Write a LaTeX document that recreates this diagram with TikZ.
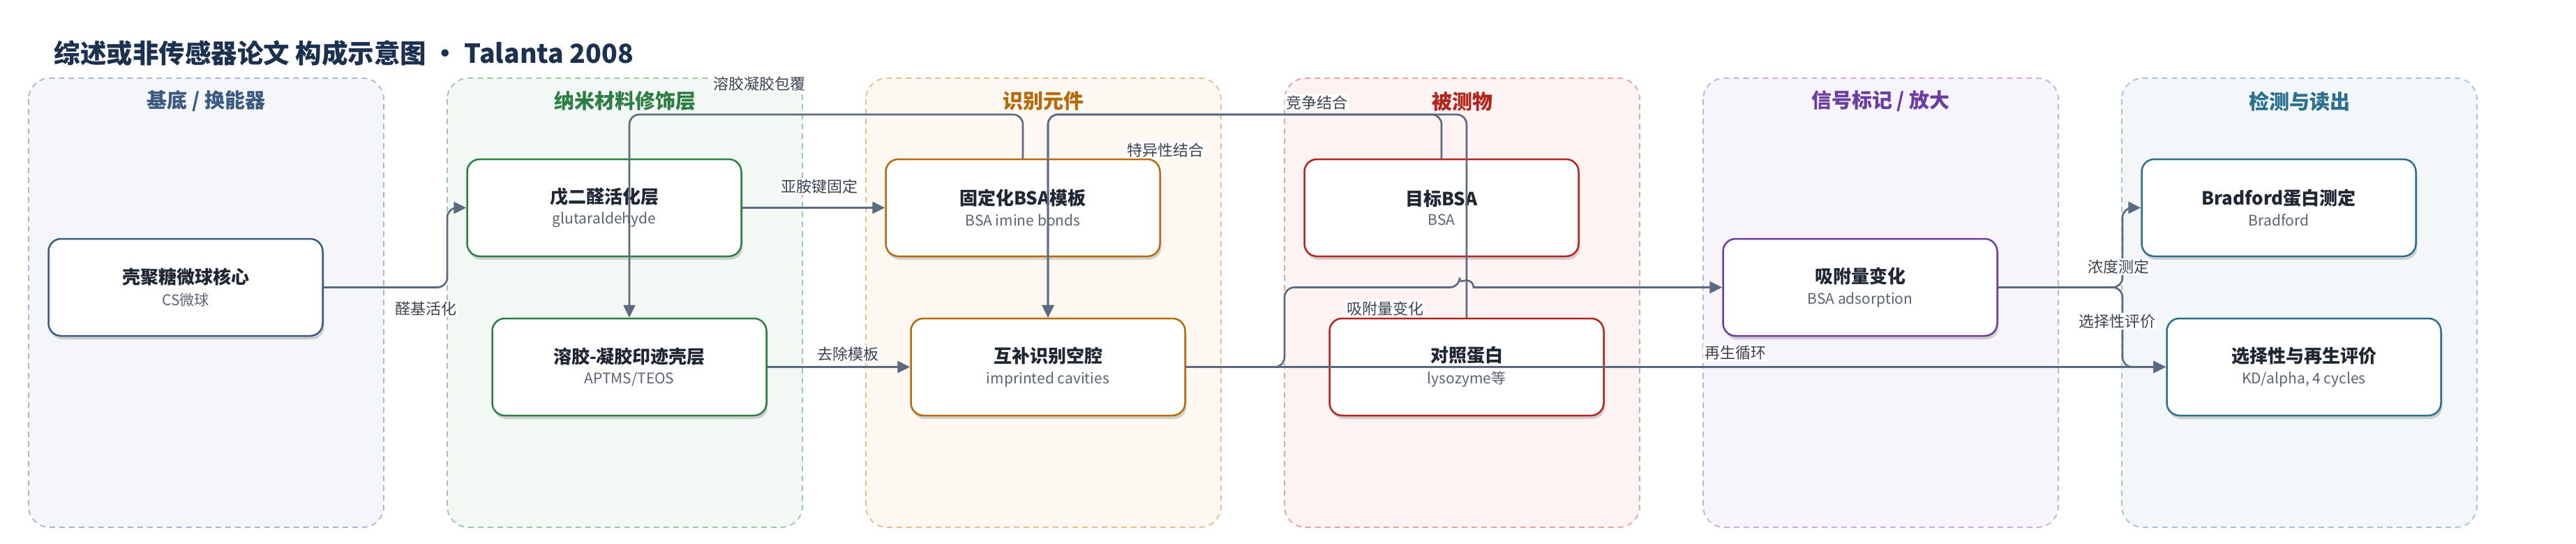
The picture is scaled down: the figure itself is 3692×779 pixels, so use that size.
\documentclass[tikz,border=0pt]{standalone}
\usepackage{fontspec}
\setmainfont{Noto Sans CJK SC}
\usetikzlibrary{arrows.meta,shadows}
\definecolor{ttl}{HTML}{1C3150}
\definecolor{txt}{HTML}{1F2733}
\definecolor{subc}{HTML}{5A6475}
\definecolor{edg}{HTML}{5B6A80}
\definecolor{lbc}{HTML}{3B4250}
\definecolor{c1}{HTML}{3D5A80}\definecolor{bd1}{HTML}{A9B7CB}\definecolor{bg1}{HTML}{F4F6FA}
\definecolor{c2}{HTML}{2E7D45}\definecolor{bd2}{HTML}{9CC9A8}\definecolor{bg2}{HTML}{F2F8F4}
\definecolor{c3}{HTML}{B8690B}\definecolor{bd3}{HTML}{E5C08C}\definecolor{bg3}{HTML}{FDF8F1}
\definecolor{c4}{HTML}{B3261E}\definecolor{bd4}{HTML}{E6A3A0}\definecolor{bg4}{HTML}{FDF3F2}
\definecolor{c5}{HTML}{6B3FA0}\definecolor{bd5}{HTML}{C6AEE0}\definecolor{bg5}{HTML}{F7F4FB}
\definecolor{c6}{HTML}{2B6F8E}\definecolor{bd6}{HTML}{A5C4D3}\definecolor{bg6}{HTML}{F3F7F9}
\tikzset{% lanes, boxes, connectors and their labels
    lane/.style 2 args={draw=#1, fill=#2, dash pattern=on 8pt off 6pt, line width=1.8pt, rounded corners=30pt},
    lt/.style={text=#1, font=\fontsize{29}{33}\selectfont\bfseries},
    v/.style={rectangle, rounded corners=18pt, minimum width=393pt, minimum height=139pt, fill=white,
        draw=#1, line width=2.5pt, text=txt, align=center,
        drop shadow={shadow xshift=2pt, shadow yshift=-5pt, opacity=.16, fill=black}},
    e/.style={-{Triangle[length=18pt,width=17pt]}, draw=edg, line width=2.6pt, rounded corners=14pt},
    lbl/.style={fill=white, text=lbc, inner sep=2pt, font=\fontsize{22}{24}\selectfont}}
\newcommand{\nd}[2]{{\fontsize{26}{30}\selectfont\bfseries #1}\\[9pt]{\fontsize{21}{25}\selectfont\color{subc}#2}}

\begin{document}
\begin{tikzpicture}[x=1pt,y=-1pt]
    \useasboundingbox (0,0) rectangle (3692,779);
    \node[anchor=west, text=ttl, font=\fontsize{37.5}{42}\selectfont\bfseries] (title) at (74,76)
        {综述或非传感器论文 构成示意图 · Talanta 2008};

    % lanes
    \draw[lane={bd1}{bg1}] (41,112) rectangle (550,755);
    \draw[lane={bd2}{bg2}] (641,112) rectangle (1150,755);
    \draw[lane={bd3}{bg3}] (1241,112) rectangle (1750,755);
    \draw[lane={bd4}{bg4}] (1841,112) rectangle (2350,755);
    \draw[lane={bd5}{bg5}] (2441,112) rectangle (2950,755);
    \draw[lane={bd6}{bg6}] (3041,112) rectangle (3550,755);
    \node[lt=c1] (t1) at (295.5,145) {基底 / 换能器};
    \node[lt=c2] (t2) at (895.5,145) {纳米材料修饰层};
    \node[lt=c3] (t3) at (1495.5,145) {识别元件};
    \node[lt=c4] (t4) at (2095.5,145) {被测物};
    \node[lt=c5] (t5) at (2695.5,145) {信号标记 / 放大};
    \node[lt=c6] (t6) at (3295.5,145) {检测与读出};

    % boxes
    \node[v=c1] (cs) at (266,411.5) {\nd{壳聚糖微球核心}{CS微球}};
    \node[v=c2] (glu) at (866,297.5) {\nd{戊二醛活化层}{glutaraldehyde}};
    \node[v=c2] (sol) at (902,525.5) {\nd{溶胶-凝胶印迹壳层}{APTMS/TEOS}};
    \node[v=c3] (tpl) at (1466,297.5) {\nd{固定化BSA模板}{BSA imine bonds}};
    \node[v=c3] (cav) at (1502,525.5) {\nd{互补识别空腔}{imprinted cavities}};
    \node[v=c4] (bsa) at (2066,297.5) {\nd{目标BSA}{BSA}};
    \node[v=c4] (ctl) at (2102,525.5) {\nd{对照蛋白}{lysozyme等}};
    \node[v=c5] (ads) at (2666,411.5) {\nd{吸附量变化}{BSA adsorption}};
    \node[v=c6] (brd) at (3266,297.5) {\nd{Bradford蛋白测定}{Bradford}};
    \node[v=c6] (sel) at (3302,525.5) {\nd{选择性与再生评价}{KD/alpha, 4 cycles}};

    % connectors
    \draw[e] (cs.east) -- (641,411.5) |- (glu.west);
    \draw[e] (glu) -- (tpl);
    \draw[e] (tpl.north) -- (1466,164) -| (sol.north);
    \draw[e] (sol) -- (cav);
    \draw[e] (bsa.north) -- (2066,164) -| (cav.north);
    \draw[e] (ctl.north) -- (2102,164) -| (cav.north);
    \draw[e] (cav.east) -- (1841,525.5) |- (2092,411.5) [sharp corners]
        arc[start angle=180, end angle=360, radius=10] -- (ads.west);
    \draw[e] (ads.east) -- (3042,411.5) |- (brd.west);
    \draw[e] (ads.east) -- (3042,411.5) |- (sel.west);
    \draw[e] (cav) -- (sel);

    % labels
    \node[lbl] (l1) at (610,442) {醛基活化};
    \node[lbl] (l2) at (1174,267) {亚胺键固定};
    \node[lbl] (l3) at (1088,120) {溶胶凝胶包覆};
    \node[lbl] (l4) at (1215,507) {去除模板};
    \node[lbl] (l5) at (1670,215) {特异性结合};
    \node[lbl] (l6) at (1887,147) {竞争结合};
    \node[lbl] (l7) at (1985,442) {吸附量变化};
    \node[lbl] (l8) at (3036,382) {浓度测定};
    \node[lbl] (l9) at (3034,460) {选择性评价};
    \node[lbl] (l10) at (2487,505) {再生循环};
\end{tikzpicture}
\end{document}
